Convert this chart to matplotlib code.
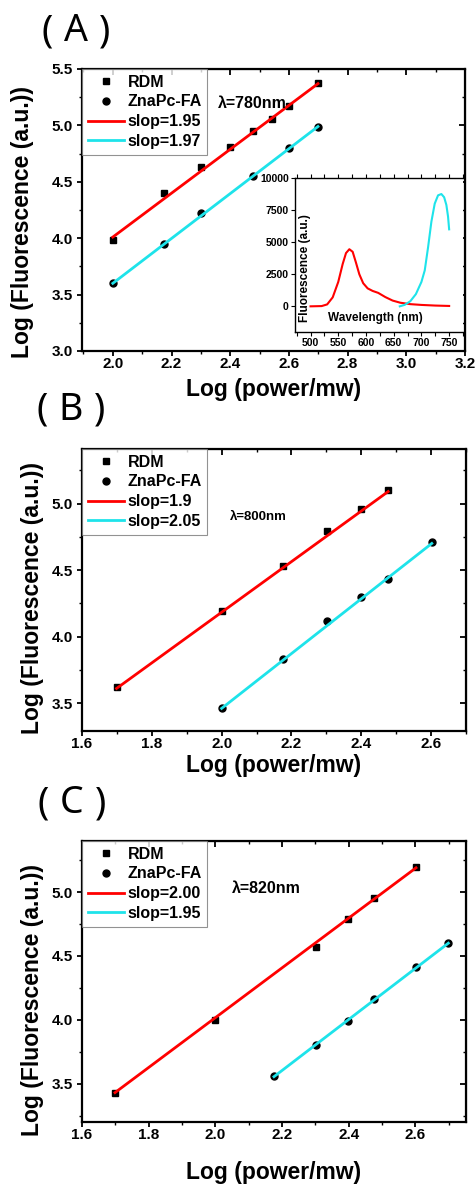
import numpy as np
import matplotlib
matplotlib.use('Agg')
import matplotlib.pyplot as plt
from matplotlib.ticker import MultipleLocator

plt.rcParams['font.family'] = ['Liberation Sans', 'DejaVu Sans']
plt.rcParams['font.weight'] = 'bold'
plt.rcParams['axes.labelweight'] = 'bold'

RED = '#ff0000'
CYAN = '#1ee3ea'

# panel A, 780 nm
xA_rdm = [2.0, 2.176, 2.301, 2.398, 2.477, 2.544, 2.602, 2.699]
yA_rdm = [3.98, 4.40, 4.63, 4.81, 4.95, 5.06, 5.17, 5.38]
xA_zn = [2.0, 2.176, 2.301, 2.477, 2.602, 2.699]
yA_zn = [3.60, 3.95, 4.22, 4.55, 4.80, 4.99]
fitA_rdm = [4.01, 5.37]
fitA_zn = [3.60, 4.99]
slopesA = ['1.95', '1.97']

# panel B, 800 nm
xB_rdm = [1.699, 2.0, 2.176, 2.301, 2.398, 2.477]
yB_rdm = [3.62, 4.19, 4.53, 4.79, 4.96, 5.10]
xB_zn = [2.0, 2.176, 2.301, 2.398, 2.477, 2.602]
yB_zn = [3.46, 3.83, 4.12, 4.30, 4.43, 4.71]
fitB_rdm = [3.61, 5.09]
fitB_zn = [3.46, 4.70]
slopesB = ['1.9', '2.05']

# panel C, 820 nm
xC_rdm = [1.699, 2.0, 2.301, 2.398, 2.477, 2.602]
yC_rdm = [3.43, 4.00, 4.57, 4.79, 4.95, 5.20]
xC_zn = [2.176, 2.301, 2.398, 2.477, 2.602, 2.699]
yC_zn = [3.56, 3.80, 3.99, 4.16, 4.41, 4.60]
fitC_rdm = [3.43, 5.19]
fitC_zn = [3.555, 4.60]
slopesC = ['2.00', '1.95']

# inset spectra
wl_red = [500, 520, 530, 540, 550, 558, 564, 570, 576, 582, 588, 595, 603, 612,
          622, 635, 648, 662, 680, 700, 725, 750]
I_red = [0, 20, 150, 700, 1900, 3300, 4150, 4450, 4250, 3400, 2500, 1800, 1400,
         1200, 1050, 720, 450, 280, 170, 110, 60, 30]
wl_cyan = [661, 670, 680, 690, 700, 706, 712, 718, 724, 730, 736, 741, 745, 748, 750]
I_cyan = [0, 120, 400, 950, 1900, 2800, 4600, 6600, 8000, 8650, 8750, 8500, 7900,
          7000, 6000]

panel_letters = ['A', 'B', 'C']

W, H = 477, 1185
fig = plt.figure(figsize=(W/100, H/100), dpi=100)


def box(l, t, r, b):
    return [l/W, 1-b/H, (r-l)/W, (b-t)/H]


def panel(rect, x1, y1, x2, y2, f1, f2, slopes, lam, lampos, lamsize,
          xlim, ylim, ylab_x, ylab_y, xlab_y):
    ax = fig.add_axes(rect)
    ax.plot(x1, y1, 's', color='k', ms=5, ls='none', label='RDM', zorder=2)
    ax.plot(x2, y2, 'o', color='k', ms=5, ls='none', label='ZnaPc-FA', zorder=2)
    ax.plot([x1[0], x1[-1]], f1, '-', color=RED, lw=2, label='slop=' + slopes[0], zorder=3)
    ax.plot([x2[0], x2[-1]], f2, '-', color=CYAN, lw=2, label='slop=' + slopes[1], zorder=3)
    ax.set_xlim(*xlim); ax.set_ylim(*ylim)
    ax.xaxis.set_major_locator(MultipleLocator(0.2))
    ax.xaxis.set_minor_locator(MultipleLocator(0.1))
    ax.yaxis.set_major_locator(MultipleLocator(0.5))
    ax.yaxis.set_minor_locator(MultipleLocator(0.25))
    ax.tick_params(which='major', direction='out', length=3.5, width=1.3, labelsize=11)
    ax.tick_params(which='minor', direction='out', length=2.2, width=1.0)
    ax.tick_params(axis='x', which='major', pad=0.5)
    ax.tick_params(axis='y', which='major', pad=3)
    for s in ax.spines.values():
        s.set_linewidth(1.6)
    sec = ax.secondary_xaxis('top')
    sec.set_xticks(ax.get_xticks())
    sec.xaxis.set_minor_locator(MultipleLocator(0.1))
    sec.set_xticklabels([])
    sec.tick_params(which='major', direction='in', length=4, width=1.3)
    sec.tick_params(which='minor', direction='in', length=2.5, width=1.0)
    sec = ax.secondary_yaxis('right')
    sec.set_yticks(ax.get_yticks())
    sec.yaxis.set_minor_locator(MultipleLocator(0.25))
    sec.set_yticklabels([])
    sec.tick_params(which='major', direction='in', length=4, width=1.3)
    sec.tick_params(which='minor', direction='in', length=2.5, width=1.0)
    leg = ax.legend(loc='upper left', borderaxespad=0, fontsize=11.5, frameon=True,
                    fancybox=False, edgecolor='#777777', handlelength=2.3,
                    handletextpad=0.2, labelspacing=0.3, borderpad=0.35)
    leg.get_frame().set_linewidth(0.8)
    ax.text(lampos[0], lampos[1], 'λ=' + lam, transform=ax.transAxes,
            fontsize=lamsize, fontweight='bold', va='center', ha='left')
    ax.set_ylabel('Log (Fluorescence (a.u.))', fontsize=16.5)
    ax.yaxis.set_label_coords(ylab_x, ylab_y)
    ax.yaxis.label.set_va('center')
    ax.set_xlabel('Log (power/mw)', fontsize=16.5)
    ax.xaxis.set_label_coords(0.5, xlab_y)
    ax.xaxis.label.set_va('center')
    return ax


axA = panel(box(82, 69, 465, 351), xA_rdm, yA_rdm, xA_zn, yA_zn, fitA_rdm, fitA_zn,
            slopesA, '780nm', (0.355, 0.876), 11.5, (1.895, 3.2), (3.0, 5.5),
            -0.155, 0.457, -0.138)
axB = panel(box(82, 449, 466, 731), xB_rdm, yB_rdm, xB_zn, yB_zn, fitB_rdm, fitB_zn,
            slopesB, '800nm', (0.385, 0.76), 9.5, (1.6, 2.7), (3.29, 5.41),
            -0.13, 0.47, -0.121)
axC = panel(box(82, 841, 466, 1122), xC_rdm, yC_rdm, xC_zn, yC_zn, fitC_rdm, fitC_zn,
            slopesC, '820nm', (0.39, 0.83), 11.5, (1.6, 2.752), (3.2, 5.4),
            -0.13, 0.434, -0.181)

# inset
axi = fig.add_axes(box(295, 178, 463, 332))
axi.plot(wl_red, I_red, color=RED, lw=1.5)
axi.plot(wl_cyan, I_cyan, color=CYAN, lw=1.5)
axi.set_xlim(472, 775)
axi.set_ylim(-2000, 10000)
axi.xaxis.set_major_locator(MultipleLocator(50))
axi.xaxis.set_minor_locator(MultipleLocator(25))
axi.yaxis.set_major_locator(MultipleLocator(2500))
axi.set_xticks([500, 550, 600, 650, 700, 750])
axi.tick_params(which='both', top=True, right=False, labelsize=7.5,
                direction='out', length=3, width=0.8, pad=1.5)
axi.spines['right'].set_visible(False)
for s in ['top', 'left', 'bottom']:
    axi.spines[s].set_linewidth(1.0)
axi.set_ylabel('Fluorescence (a.u.)', fontsize=8.5)
axi.yaxis.set_label_coords(0.06, 0.415)
axi.yaxis.label.set_va('center')
axi.set_xlabel('Wavelength (nm)', fontsize=8.5)
axi.xaxis.set_label_coords(0.48, 0.09)
axi.xaxis.label.set_va('center')

# panel letters, wide parentheses as in the original
for lab, (x, y) in zip(panel_letters, [(76, 31), (71, 410), (72, 803)]):
    for s, dx in [('(', -29), (lab, 0), (')', 29)]:
        fig.text((x + dx)/W, 1-y/H, s, fontsize=27, family='Noto Sans',
                 fontweight='normal', ha='center', va='center')

fig.savefig('out.png', dpi=100)
